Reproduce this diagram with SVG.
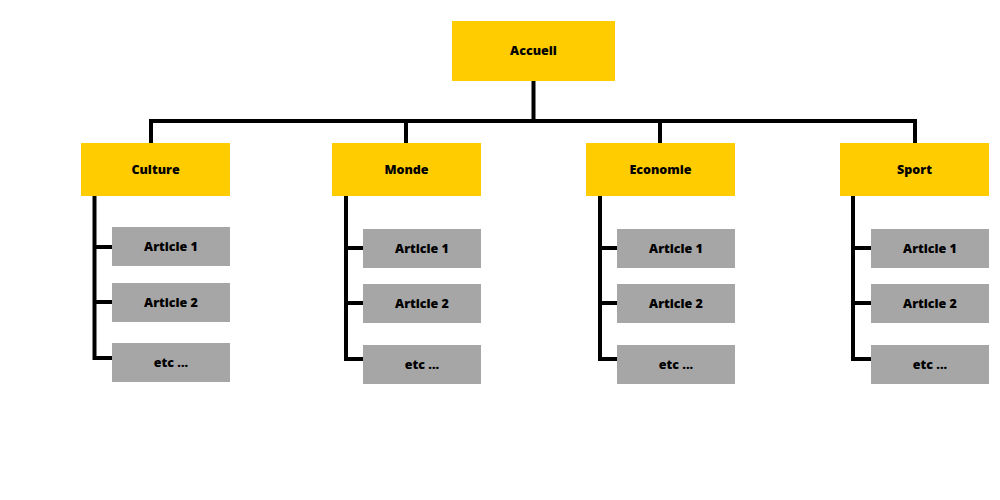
<svg xmlns="http://www.w3.org/2000/svg" width="1000" height="500" viewBox="0 0 1000 500">
<style>
.cat{fill:#FFCC00}
.art{fill:#A6A6A6}
text{font-family:"Open Sans","Liberation Sans",sans-serif;font-weight:800;font-size:12.5px;fill:#000;text-anchor:middle;dominant-baseline:central}
.ln{stroke:#000;stroke-width:4;fill:none}
</style>
<rect width="1000" height="500" fill="#fff"/>
<g id="connectors">
<path class="ln" d="M533.5 81V121M151 121H915M151 119V143M406 119V143M660 119V143M915 119V143"/>
<path class="ln" d="M94.5 196V358M92.5 247H112M92.5 302H112M92.5 358H112"/>
<path class="ln" d="M346 196V359M344 248H363M344 303H363M344 359H363"/>
<path class="ln" d="M600 196V359M598 248H617M598 303H617M598 359H617"/>
<path class="ln" d="M853 196V359M851 248H871M851 303H871M851 359H871"/>
</g>
<g id="accueil"><rect class="cat" x="452" y="21" width="163" height="60"/><text x="533.5" y="50">Accueil</text></g>
<g id="culture"><rect class="cat" x="81" y="143" width="149" height="53"/><text x="155.5" y="169.5">Culture</text></g>
<g id="culture-a1"><rect class="art" x="112" y="227" width="118" height="39"/><text x="171" y="246.5">Article 1</text></g>
<g id="culture-a2"><rect class="art" x="112" y="283" width="118" height="39"/><text x="171" y="302">Article 2</text></g>
<g id="culture-etc"><rect class="art" x="112" y="343" width="118" height="39"/><text x="171" y="362.5">etc ...</text></g>
<g id="monde"><rect class="cat" x="332" y="143" width="149" height="53"/><text x="406.5" y="169.5">Monde</text></g>
<g id="monde-a1"><rect class="art" x="363" y="229" width="118" height="39"/><text x="422" y="248">Article 1</text></g>
<g id="monde-a2"><rect class="art" x="363" y="284" width="118" height="39"/><text x="422" y="303.5">Article 2</text></g>
<g id="monde-etc"><rect class="art" x="363" y="345" width="118" height="39"/><text x="422" y="364.5">etc ...</text></g>
<g id="economie"><rect class="cat" x="586" y="143" width="149" height="53"/><text x="660.5" y="169.5">Economie</text></g>
<g id="economie-a1"><rect class="art" x="617" y="229" width="118" height="39"/><text x="676" y="248">Article 1</text></g>
<g id="economie-a2"><rect class="art" x="617" y="284" width="118" height="39"/><text x="676" y="303.5">Article 2</text></g>
<g id="economie-etc"><rect class="art" x="617" y="345" width="118" height="39"/><text x="676" y="364.5">etc ...</text></g>
<g id="sport"><rect class="cat" x="840" y="143" width="149" height="53"/><text x="914.5" y="169.5">Sport</text></g>
<g id="sport-a1"><rect class="art" x="871" y="229" width="118" height="39"/><text x="930" y="248">Article 1</text></g>
<g id="sport-a2"><rect class="art" x="871" y="284" width="118" height="39"/><text x="930" y="303.5">Article 2</text></g>
<g id="sport-etc"><rect class="art" x="871" y="345" width="118" height="39"/><text x="930" y="364.5">etc ...</text></g>
</svg>
